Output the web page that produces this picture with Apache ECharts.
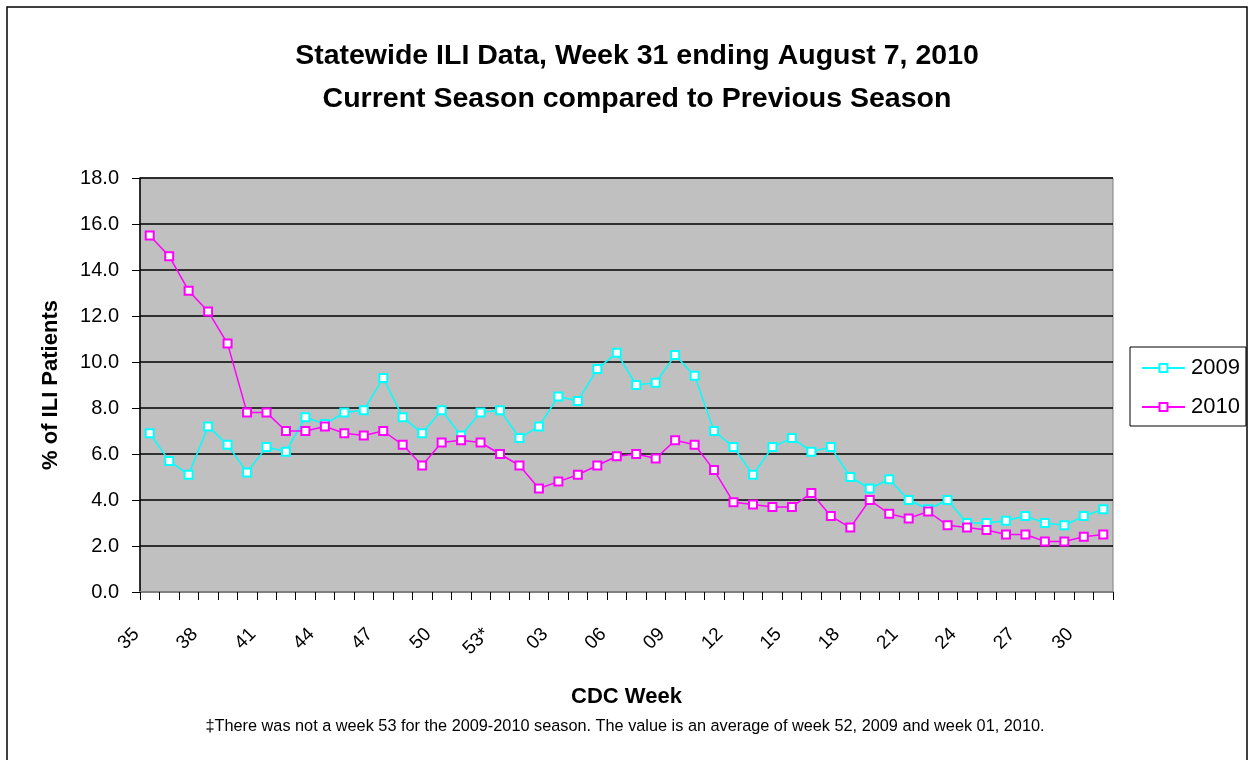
<!DOCTYPE html>
<html>
<head>
<meta charset="utf-8">
<script src="https://cdn.jsdelivr.net/npm/echarts@6/dist/echarts.min.js"></script>
<style>
  html, body { margin: 0; padding: 0; background: #fff; }
  #chart { width: 1250px; height: 760px; }
</style>
</head>
<body>
<div id="chart"></div>
<script>
const weeks = ['35','36','37','38','39','40','41','42','43','44','45','46','47','48','49','50','51','52','53*',
  '01','02','03','04','05','06','07','08','09','10','11','12','13','14','15','16','17','18','19','20',
  '21','22','23','24','25','26','27','28','29','30','31'];
const season2009 = [6.9, 5.7, 5.1, 7.2, 6.4, 5.2, 6.3, 6.1, 7.6, 7.3, 7.8, 7.9, 9.3, 7.6, 6.9, 7.9, 6.8, 7.8, 7.9,
  6.7, 7.2, 8.5, 8.3, 9.7, 10.4, 9.0, 9.1, 10.3, 9.4, 7.0, 6.3, 5.1, 6.3, 6.7, 6.1, 6.3, 5.0, 4.5, 4.9,
  4.0, 3.6, 4.0, 3.0, 3.0, 3.1, 3.3, 3.0, 2.9, 3.3, 3.6];
const season2010 = [15.5, 14.6, 13.1, 12.2, 10.8, 7.8, 7.8, 7.0, 7.0, 7.2, 6.9, 6.8, 7.0, 6.4, 5.5, 6.5, 6.6, 6.5, 6.0,
  5.5, 4.5, 4.8, 5.1, 5.5, 5.9, 6.0, 5.8, 6.6, 6.4, 5.3, 3.9, 3.8, 3.7, 3.7, 4.3, 3.3, 2.8, 4.0, 3.4,
  3.2, 3.5, 2.9, 2.8, 2.7, 2.5, 2.5, 2.2, 2.2, 2.4, 2.5];
const seriesNames = ['2009', '2010'];
const titleLines = ['Statewide ILI Data, Week 31 ending August 7, 2010', 'Current Season compared to Previous Season'];
const xAxisName = 'CDC Week';
const yAxisName = '% of ILI Patients';
const footnote = '\u2021There was not a week 53 for the 2009-2010 season. The value is an average of week 52, 2009 and week 01, 2010.';

const FONT = '"Liberation Sans", Arial, sans-serif';
const chart = echarts.init(document.getElementById('chart'), null, { renderer: 'canvas' });

function lineSeries(name, data, color) {
  return {
    name: name,
    type: 'line',
    data: data,
    symbol: 'rect',
    symbolSize: 8,
    showAllSymbol: true,
    lineStyle: { color: color, width: 1.5 },
    itemStyle: { color: '#ffffff', borderColor: color, borderWidth: 2 },
    emphasis: { disabled: true },
    animation: false
  };
}

chart.setOption({
  animation: false,
  backgroundColor: '#ffffff',
  title: {
    text: titleLines.join('\n'),
    left: 632,
    top: 30,
    textAlign: 'center',
    textStyle: { fontFamily: FONT, fontSize: 28.5, fontWeight: 'bold', color: '#000', lineHeight: 43 }
  },
  legend: {
    orient: 'vertical',
    left: 1130,
    top: 347,
    itemWidth: 43,
    itemHeight: 10,
    itemGap: 17,
    padding: [10, 6, 8, 11],
    borderColor: '#000',
    borderWidth: 1,
    textStyle: { fontFamily: FONT, fontSize: 22, color: '#000', padding: [0, 0, 0, 1] },
    data: seriesNames
  },
  grid: { left: 140, right: 137, top: 178, bottom: 168, show: true, backgroundColor: '#C0C0C0', borderColor: '#808080', borderWidth: 1 },
  xAxis: {
    type: 'category',
    data: weeks,
    boundaryGap: true,
    name: xAxisName,
    nameLocation: 'middle',
    nameGap: 94,
    nameTextStyle: { fontFamily: FONT, fontSize: 22, fontWeight: 'bold', color: '#000' },
    axisLine: { lineStyle: { color: '#808080', width: 2 } },
    axisTick: { show: true, interval: 0, alignWithLabel: false, length: 8, lineStyle: { color: '#000', width: 1 } },
    axisLabel: { interval: 2, rotate: 45, margin: 26, padding: [0, 19, 0, 0], fontFamily: FONT, fontSize: 19, color: '#000' },
    splitLine: { show: false }
  },
  yAxis: {
    type: 'value',
    min: 0, max: 18, interval: 2,
    name: yAxisName,
    nameLocation: 'middle',
    nameRotate: 90,
    nameGap: 78,
    nameTextStyle: { fontFamily: FONT, fontSize: 22, fontWeight: 'bold', color: '#000' },
    axisLine: { show: true, lineStyle: { color: '#000', width: 1.5 } },
    axisTick: { show: true, length: 8, lineStyle: { color: '#000', width: 1 } },
    axisLabel: { formatter: function (v) { return v.toFixed(1); }, margin: 21, fontFamily: FONT, fontSize: 20, color: '#000' },
    splitLine: { show: true, lineStyle: { color: '#000', width: 1.5 } }
  },
  series: [
    lineSeries(seriesNames[0], season2009, '#00FFFF'),
    lineSeries(seriesNames[1], season2010, '#FF00FF')
  ],
  graphic: [
    { type: 'rect', shape: { x: 7, y: 7, width: 1240, height: 800 }, style: { fill: 'none', stroke: '#000', lineWidth: 1.5 }, silent: true, z: -1 },
    { type: 'text', x: 625, y: 727, style: { text: footnote, fontFamily: FONT, fontSize: 16.3, fill: '#000', align: 'center', verticalAlign: 'middle' }, silent: true }
  ]
});
</script>
</body>
</html>
